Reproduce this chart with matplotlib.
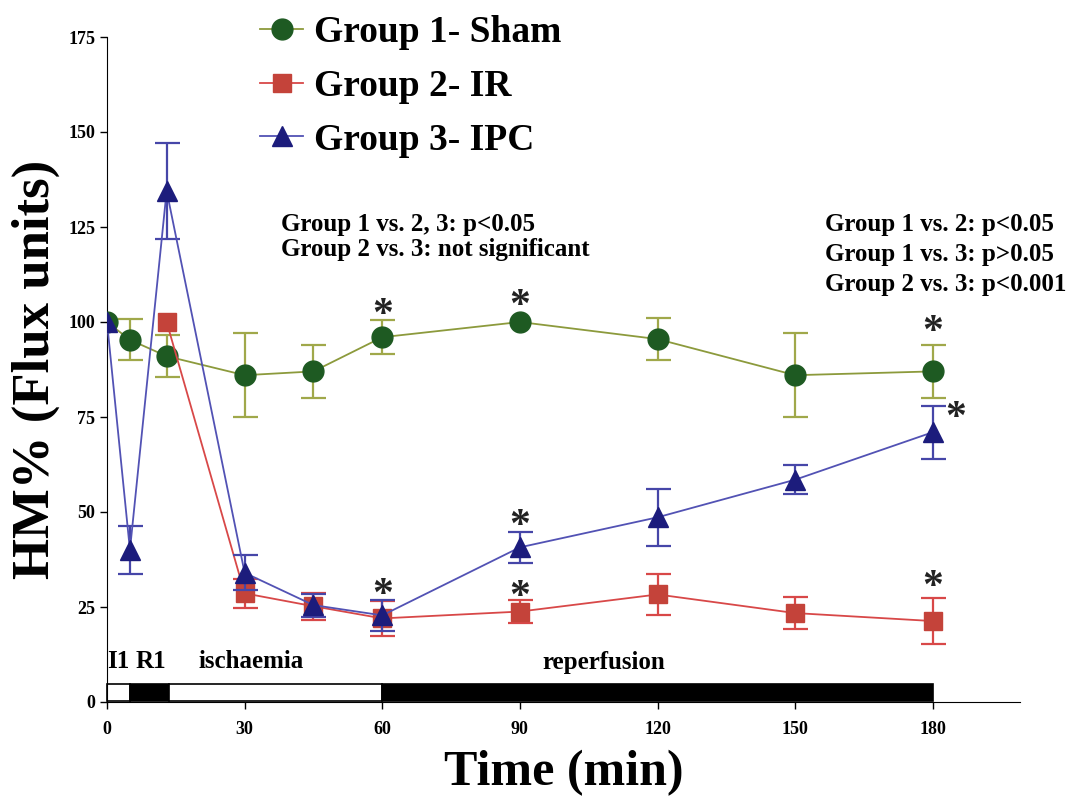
import matplotlib.pyplot as plt
from matplotlib.patches import Rectangle
from matplotlib.lines import Line2D

SERIF = ["Liberation Serif", "DejaVu Serif"]

# time points (min)
t_sham = [0, 5, 13, 30, 45, 60, 90, 120, 150, 180]
sham = [100, 95.3, 91, 86, 87, 96, 100, 95.5, 86, 87]
sham_err = [0, 5.4, 5.6, 11, 7, 4.5, 0, 5.5, 11, 7]

t_ir = [13, 30, 45, 60, 90, 120, 150, 180]
ir = [100, 28.6, 25.2, 22, 23.8, 28.3, 23.4, 21.3]
ir_err = [0, 3.8, 3.6, 4.5, 3, 5.4, 4.2, 6]

t_ipc = [0, 5, 13, 30, 45, 60, 90, 120, 150, 180]
ipc = [100, 40, 134.5, 34, 25.5, 22.8, 40.7, 48.6, 58.5, 71]
ipc_err = [0, 6.2, 12.7, 4.6, 3, 4, 4, 7.5, 3.8, 7]

# significance asterisks (x, y)
stars_x = [60, 90, 180, 185, 90, 60, 90, 180]
stars_y = [101.5, 104, 97, 74.5, 46, 28, 27.5, 30]

# protocol bar segments (start, end, filled)
segments = [(0, 5, False), (5, 13.5, True), (13.5, 60, False), (60, 180, True)]
phase_labels = ["I1", "R1", "ischaemia", "reperfusion"]
phase_x = [0, 6.3, 20, 95]

groups = [
    ("Group 1- Sham", t_sham, sham, sham_err, "o", 15, "#1e5a22", "#8c9a3c", "#a0a84a"),
    ("Group 2- IR", t_ir, ir, ir_err, "s", 13, "#c4433a", "#d84848", "#d84848"),
    ("Group 3- IPC", t_ipc, ipc, ipc_err, "^", 14, "#1c1c7c", "#5252b4", "#4646a8"),
]

fig = plt.figure(figsize=(10.82, 8.11), dpi=100)
ax = fig.add_axes([107 / 1082, 1 - 702 / 811, (1020 - 107) / 1082, (702 - 37) / 811])

handles = []
for z, (label, t, v, e, mk, ms, mc, lc, ec) in enumerate(groups):
    te = [a for a, b in zip(t, e) if b > 0]
    ve = [a for a, b in zip(v, e) if b > 0]
    ee = [b for b in e if b > 0]
    ax.errorbar(te, ve, yerr=ee, fmt="none", ecolor=ec, elinewidth=1.6,
                capsize=9, capthick=1.6, zorder=3 + z)
    ax.plot(t, v, color=lc, lw=1.3, marker=mk, markersize=ms,
            markerfacecolor=mc, markeredgecolor=mc, zorder=3 + z)
    handles.append(Line2D([], [], color=lc, lw=1.3, marker=mk, markersize=ms,
                          markerfacecolor=mc, markeredgecolor=mc, label=label))

for sx, sy in zip(stars_x, stars_y):
    ax.text(sx, sy, "*", fontsize=30, ha="center", va="center", color="#222222",
            family=SERIF, fontweight="bold")

for start, end, filled in segments:
    ax.add_patch(Rectangle((start, 0.3), end - start, 4.4, facecolor="black" if filled else "white",
                           edgecolor="black", lw=1.2, zorder=2, clip_on=False))

for lab, px in zip(phase_labels, phase_x):
    ax.text(px, 7.5, lab, fontsize=18, fontweight="bold", family=SERIF, ha="left", va="bottom")

ax.text(38, 116, "Group 1 vs. 2, 3: p<0.05\nGroup 2 vs. 3: not significant",
        fontsize=18, fontweight="bold", family=SERIF, ha="left", va="bottom", linespacing=1.15)
ax.text(156.5, 106.8, "Group 1 vs. 2: p<0.05\nGroup 1 vs. 3: p>0.05\nGroup 2 vs. 3: p<0.001",
        fontsize=18, fontweight="bold", family=SERIF, ha="left", va="bottom", linespacing=1.4)

ax.set_xlim(0, 199)
ax.set_ylim(0, 175)
ax.set_xticks([0, 30, 60, 90, 120, 150, 180])
ax.set_yticks([0, 25, 50, 75, 100, 125, 150, 175])
for lab in ax.get_xticklabels() + ax.get_yticklabels():
    lab.set_family(SERIF)
    lab.set_fontweight("bold")
    lab.set_fontsize(13)
ax.tick_params(length=5, width=1)
ax.tick_params(axis="x", pad=9)
ax.spines["top"].set_visible(False)
ax.spines["right"].set_visible(False)

ax.set_xlabel("Time (min)", fontsize=36, fontweight="bold", family=SERIF, labelpad=8)
ax.set_ylabel("HM% (Flux units)", fontsize=38, fontweight="bold", family=SERIF, labelpad=6)

fig.legend(handles=handles, loc="upper left", bbox_to_anchor=(245 / 1082, 1.0), frameon=False,
           prop={"family": SERIF, "weight": "bold", "size": 27}, handlelength=1.15,
           handletextpad=0.3, labelspacing=0.5, borderaxespad=0.2, borderpad=0.2)

fig.savefig("out.png", dpi=100)
